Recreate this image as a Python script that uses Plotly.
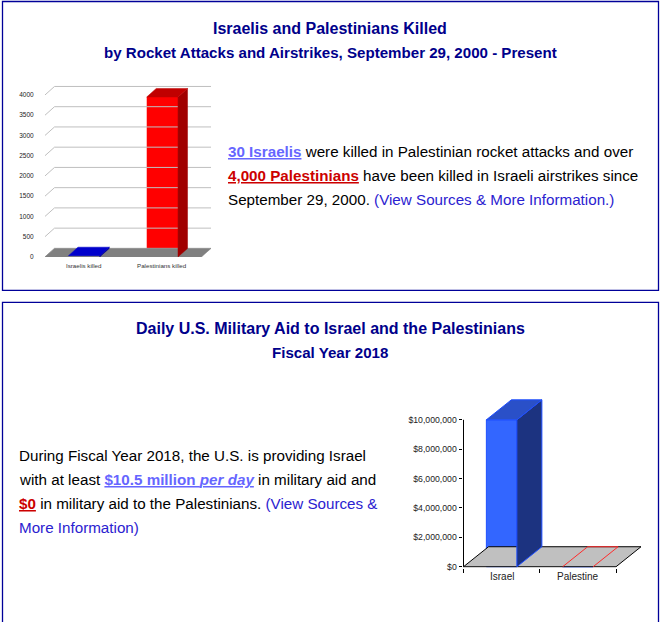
import plotly.graph_objects as go

# ---------------- data ----------------
killed_categories = ["Israelis killed", "Palestinians killed"]
killed_values = [30, 3950]
killed_ticks = [0, 500, 1000, 1500, 2000, 2500, 3000, 3500, 4000]

aid_categories = ["Israel", "Palestine"]
aid_values = [10000000, 0]
aid_ticks = [0, 2000000, 4000000, 6000000, 8000000, 10000000]
aid_tick_labels = ["$0", "$2,000,000", "$4,000,000", "$6,000,000",
                   "$8,000,000", "$10,000,000"]

# ---------------- page geometry (pixels) ----------------
W, H = 660, 622
YS = 1.006   # vertical correction factor for the capture
FONT = "Arial, Liberation Sans, sans-serif"
TITLE_C = "#00008B"
LINK_C = "#2B22D0"
LIGHT_LINK = "#6666FF"
RED_LINK = "#CC0000"


def px(x):
    return x / W


def py(y):
    return 1 - y * YS / H


fig = go.Figure()

# ---------- chart 1: killed (3D-look bar) ----------
X0_1, UX1 = 45.0, 78.25            # px at x=-0.5, px per category unit
Y0_1, UY1 = 257.0, 162.0 / 4000    # px at y=0, px per value unit
DX1, DY1 = 9.5 / UX1, 8.5 / UY1    # depth offset in data units
XR1 = [-0.5, 1.72]
YR1 = [0, 4400]
HALF1 = 0.2

# gridlines (left wall slant + back wall)
gx, gy = [], []
for v in killed_ticks:
    gx += [-0.5, -0.5 + DX1, 1.5 + DX1, None]
    gy += [v, v + DY1, v + DY1, None]
fig.add_trace(go.Scatter(x=gx, y=gy, mode="lines", line=dict(color="#BFBFBF", width=1),
                         xaxis="x", yaxis="y", hoverinfo="skip", showlegend=False))
# floor
fig.add_trace(go.Scatter(x=[-0.5, 1.5, 1.5 + DX1, -0.5 + DX1, -0.5],
                         y=[0, 0, DY1, DY1, 0], mode="lines", fill="toself",
                         fillcolor="#808080", line=dict(color="#808080", width=0.5),
                         xaxis="x", yaxis="y", hoverinfo="skip", showlegend=False))

face1 = [("#0000FF", "#0000CC", "#000099"), ("#FF0000", "#C00000", "#A00000")]
for i, v in enumerate(killed_values):
    front_c, top_c, side_c = face1[i]
    l, r = i - HALF1, i + HALF1
    fig.add_trace(go.Scatter(x=[r, r + DX1, r + DX1, r, r], y=[0, DY1, v + DY1, v, 0],
                             mode="lines", fill="toself", fillcolor=side_c,
                             line=dict(color=side_c, width=0.5),
                             xaxis="x", yaxis="y", hoverinfo="skip", showlegend=False))
    fig.add_trace(go.Scatter(x=[l, r, r + DX1, l + DX1, l], y=[v, v, v + DY1, v + DY1, v],
                             mode="lines", fill="toself", fillcolor=top_c,
                             line=dict(color=top_c, width=0.5),
                             xaxis="x", yaxis="y", hoverinfo="skip", showlegend=False))
fig.add_trace(go.Bar(x=[0, 1], y=killed_values, width=2 * HALF1,
                     marker=dict(color=[c[0] for c in face1], line=dict(width=0)),
                     xaxis="x", yaxis="y", hoverinfo="skip", showlegend=False))

# ---------- chart 2: aid (3D-look bar) ----------
X0_2, UX2 = 463.5, 76.25
Y0_2, UY2 = 567.0, 147.0 / 10000000
DX2, DY2 = 25.0 / UX2, 20.0 / UY2
PADX2, PADY2 = 1.0 / UX2, 1.0 / UY2
XR2 = [-0.5 - PADX2, 1.95]
YR2 = [-PADY2, 11800000]
HALF2 = 0.2

# floor
fig.add_trace(go.Scatter(x=[-0.5, 1.5, 1.5 + DX2, -0.5 + DX2, -0.5],
                         y=[0, 0, DY2, DY2, 0], mode="lines", fill="toself",
                         fillcolor="#C0C0C0", line=dict(color="#000000", width=1),
                         xaxis="x2", yaxis="y2", hoverinfo="skip", showlegend=False))
# y axis line (front wall edge)
fig.add_trace(go.Scatter(x=[-0.5, -0.5], y=[0, aid_ticks[-1]], mode="lines",
                         line=dict(color="#000000", width=1),
                         xaxis="x2", yaxis="y2", hoverinfo="skip", showlegend=False))

for i, v in enumerate(aid_values):
    l, r = i - HALF2, i + HALF2
    if v > 0:
        fig.add_trace(go.Scatter(x=[r, r + DX2, r + DX2, r, r], y=[0, DY2, v + DY2, v, 0],
                                 mode="lines", fill="toself", fillcolor="#1C3380",
                                 line=dict(color="#1F4FFF", width=1),
                                 xaxis="x2", yaxis="y2", hoverinfo="skip", showlegend=False))
        fig.add_trace(go.Scatter(x=[l, r, r + DX2, l + DX2, l], y=[v, v, v + DY2, v + DY2, v],
                                 mode="lines", fill="toself", fillcolor="#2A50C8",
                                 line=dict(color="#1F4FFF", width=1),
                                 xaxis="x2", yaxis="y2", hoverinfo="skip", showlegend=False))
    else:
        fig.add_trace(go.Scatter(x=[l, l + DX2, r + DX2, r], y=[v, v + DY2, v + DY2, v],
                                 mode="lines", line=dict(color="#FF2A2A", width=1),
                                 xaxis="x2", yaxis="y2", hoverinfo="skip", showlegend=False))
fig.add_trace(go.Bar(x=[0, 1], y=aid_values, width=2 * HALF2,
                     marker=dict(color="#3366FF", line=dict(color="#1F4FFF", width=1)),
                     xaxis="x2", yaxis="y2", hoverinfo="skip", showlegend=False))

# ---------- annotations ----------
ann = []


def text(x, y, s, size, color="#000000", xanchor="left"):
    ann.append(dict(x=px(x), y=py(y), xref="paper", yref="paper", text=s, showarrow=False,
                    xanchor=xanchor, yanchor="middle", align="left",
                    font=dict(family=FONT, size=size, color=color)))


text(330, 29, "<b>Israelis and Palestinians Killed</b>", 16, TITLE_C, "center")
text(330, 53, "<b>by Rocket Attacks and Airstrikes, September 29, 2000 - Present</b>",
     15.1, TITLE_C, "center")
text(330, 329, "<b>Daily U.S. Military Aid to Israel and the Palestinians</b>", 16, TITLE_C, "center")
text(330, 353, "<b>Fiscal Year 2018</b>", 15.1, TITLE_C, "center")

BODY = 15.2
text(225.8, 152, f"<span style='color:{LIGHT_LINK}'><u><b>30 Israelis</b></u></span>"
                 " were killed in Palestinian rocket attacks and over", BODY)
text(225.8, 176, f"<span style='color:{RED_LINK}'><u><b>4,000 Palestinians</b></u></span>"
                 " have been killed in Israeli airstrikes since", BODY)
text(225.8, 200, "September 29, 2000. "
                 f"<span style='color:{LINK_C}'>(View Sources &amp; More Information.)</span>", BODY)

text(16.5, 456, "During Fiscal Year 2018, the U.S. is providing Israel", BODY)
text(16.5, 480, f"with at least <span style='color:{LIGHT_LINK}'><u><b>$10.5 million <i>per day</i></b></u></span>"
                " in military aid and", BODY)
text(16.5, 504, f"<span style='color:{RED_LINK}'><u><b>$0</b></u></span> in military aid to the Palestinians. "
                f"<span style='color:{LINK_C}'>(View Sources &amp;</span>", BODY)
text(16.5, 528, f"<span style='color:{LINK_C}'>More Information)</span>", BODY)

# category labels
for i, c in enumerate(killed_categories):
    ann.append(dict(x=i, y=0, xref="x", yref="y", text=c, showarrow=False, yshift=-9,
                    yanchor="middle", font=dict(family=FONT, size=6.2, color="#333333")))
for i, c in enumerate(aid_categories):
    ann.append(dict(x=i, y=0, xref="x2", yref="y2", text=c, showarrow=False, yshift=-10,
                    yanchor="middle", font=dict(family=FONT, size=10, color="#222222")))

# panel borders
shapes = [
    dict(type="rect", xref="paper", yref="paper", x0=px(2.5), x1=px(658.5), y0=py(290.5), y1=py(1.5),
         line=dict(color="#000099", width=1.3), layer="below"),
    dict(type="rect", xref="paper", yref="paper", x0=px(2.5), x1=px(658.5), y0=py(640), y1=py(302.5),
         line=dict(color="#000099", width=1.3), layer="below"),
]

fig.update_layout(
    width=W, height=H, margin=dict(l=0, r=0, t=0, b=0),
    paper_bgcolor="#FFFFFF", plot_bgcolor="rgba(0,0,0,0)",
    showlegend=False, barmode="overlay",
    annotations=ann, shapes=shapes,
    xaxis=dict(domain=[px(X0_1), px(X0_1 + (XR1[1] - XR1[0]) * UX1)], range=XR1,
               showgrid=False, zeroline=False, showticklabels=False, showline=False,
               fixedrange=True, anchor="y"),
    yaxis=dict(domain=[py(Y0_1), py(Y0_1 - (YR1[1] - YR1[0]) * UY1)], range=YR1,
               tickvals=killed_ticks, ticktext=[str(t) for t in killed_ticks],
               ticks="outside", ticklen=9, tickcolor="rgba(0,0,0,0)",
               tickfont=dict(family=FONT, size=6.5, color="#222222"),
               showgrid=False, zeroline=False, showline=False, fixedrange=True, anchor="x"),
    xaxis2=dict(domain=[px(X0_2 - 1), px(X0_2 - 1 + (XR2[1] - XR2[0]) * UX2)], range=XR2,
                tickvals=[-0.5, 0.5, 1.5], ticktext=["", "", ""], ticks="outside",
                ticklen=4, tickcolor="#000000", tickwidth=1,
                showgrid=False, zeroline=False, showline=False, fixedrange=True, anchor="y2"),
    yaxis2=dict(domain=[py(Y0_2 + 1), py(Y0_2 + 1 - (YR2[1] - YR2[0]) * UY2)], range=YR2,
                tickvals=aid_ticks, ticktext=aid_tick_labels, ticks="outside",
                ticklen=3, tickcolor="#000000", tickwidth=1,
                tickfont=dict(family=FONT, size=8.7, color="#222222"),
                showgrid=False, zeroline=False, showline=False, fixedrange=True, anchor="x2"),
)

fig.write_html("out.html", config={"displayModeBar": False},
               post_script="document.body.style.margin='0';")
